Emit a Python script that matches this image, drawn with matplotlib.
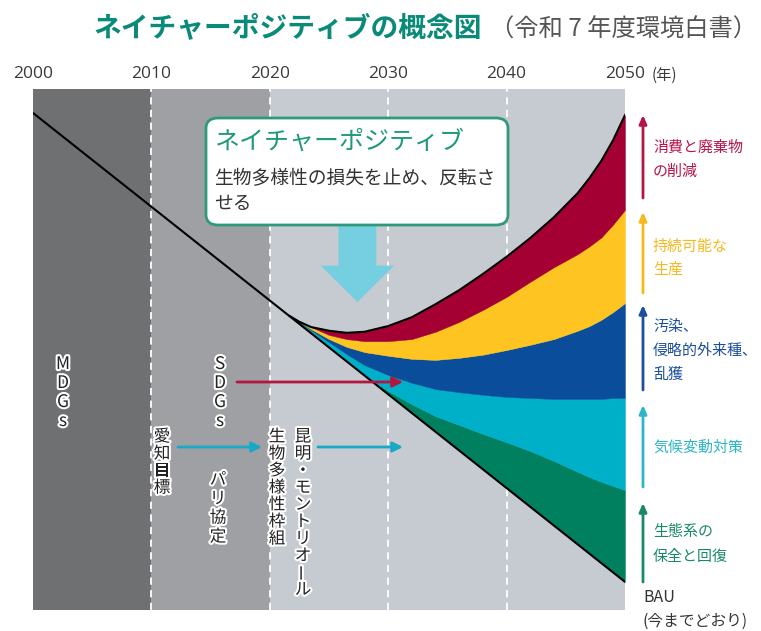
import numpy as np
import matplotlib
matplotlib.use("Agg")
import matplotlib.pyplot as plt
import matplotlib.patheffects as pe
from matplotlib.patches import FancyBboxPatch, FancyArrow

plt.rcParams['font.family'] = ['Noto Sans CJK JP', 'DejaVu Sans']

W, H = 761, 631

# ---- data (index: 0 = bottom, 100 = top of panel) ----
tick_years = [2000, 2010, 2020, 2030, 2040, 2050]
bau_years = [2000, 2050]
bau_line = [95.4, 5.4]

years = [2021.7, 2022.5, 2023.5, 2025, 2026.5, 2028, 2030, 2032, 2034, 2036,
         2038, 2040, 2042, 2044, 2046, 2047, 2048, 2049, 2050]
bau = [56.4, 54.9, 53.1, 50.4, 47.7, 45.0, 41.4, 37.8, 34.2, 30.6,
       27.0, 23.4, 19.8, 16.2, 12.6, 10.8, 9.0, 7.2, 5.4]
cyan_green = [56.4, 54.9, 53.1, 50.4, 47.7, 45.0, 42.0, 39.5, 37.2, 35.5,
              33.8, 32.2, 30.5, 28.6, 26.5, 25.5, 24.6, 23.8, 23.0]
blue_cyan = [56.4, 55.3, 53.7, 51.4, 49.1, 47.0, 45.1, 43.6, 42.4, 41.8,
             41.3, 40.9, 40.7, 40.5, 40.5, 40.5, 40.5, 40.7, 40.7]
yellow_blue = [56.4, 55.3, 53.9, 52.0, 50.5, 49.5, 48.8, 48.2, 48.0, 48.4,
               49.0, 49.9, 50.9, 52.0, 53.6, 54.5, 55.7, 57.2, 58.9]
red_yellow = [56.4, 55.5, 54.3, 52.8, 52.0, 51.6, 51.6, 52.0, 53.4, 55.3,
              57.6, 60.1, 63.0, 65.8, 68.3, 69.8, 71.5, 74.0, 76.8]
positive = [56.4, 55.3, 54.3, 53.6, 53.2, 53.4, 54.5, 56.2, 58.7, 61.4,
            64.5, 67.8, 71.4, 75.4, 80.0, 82.9, 86.2, 90.2, 95.0]

bands = [bau, cyan_green, blue_cyan, yellow_blue, red_yellow, positive]
band_colors = ['#00805f', '#00afc8', '#0a4e9b', '#fdc422', '#a50034']

# right-side legend: (lines, colour, arrow bottom px, arrow top px, label y px)
legend_items = [
    (["消費と廃棄物", "の削減"], '#b51446', 198, 115, [148, 172]),
    (["持続可能な", "生産"], '#f6b81c', 293, 212, [247, 270]),
    (["汚染、", "侵略的外来種、", "乱獲"], '#1c4f9c', 390, 305, [327, 351, 375]),
    (["気候変動対策"], '#2db6c8', 487, 405, [448]),
    (["生態系の", "保全と回復"], '#168a68', 582, 503, [532, 557]),
]


def fx(x):
    return x / W


def fy(y):
    return 1 - y / H


fig = plt.figure(figsize=(W / 100, H / 100), dpi=100)
ax = fig.add_axes([fx(33), fy(610), (625 - 33) / W, (610 - 89) / H])
ax.set_xlim(2000, 2050)
ax.set_ylim(0, 100)
ax.axis('off')

# background periods
ax.axvspan(2000, 2010, color='#6f7072', lw=0, zorder=0)
ax.axvspan(2010, 2020, color='#9fa0a3', lw=0, zorder=0)
ax.axvspan(2020, 2050, color='#c6cbd1', lw=0, zorder=0)
for yr in tick_years[1:-1]:
    ax.axvline(yr, color='white', lw=1.3, ls=(0, (4, 3)), zorder=1)

# stacked bands
for lo, hi, c in zip(bands[:-1], bands[1:], band_colors):
    ax.fill_between(years, lo, hi, color=c, lw=0.3, edgecolor=c, zorder=2)
ax.plot(years, positive, color='black', lw=1.5, zorder=3, solid_joinstyle='round')
ax.plot(bau_years, bau_line, color='black', lw=1.5, zorder=3)

# big down arrow
ax.add_patch(FancyArrow(2027.4, 73.9, 0, -14.8, width=3.2, head_width=6.2,
                        head_length=7.0, length_includes_head=True,
                        color='#76cfe0', lw=0, zorder=2))

# year labels
for yr in tick_years:
    ax.text(yr, 102.8, str(yr), ha='center', va='center', fontsize=12.5,
            color='#3a3a3a', family=['Open Sans', 'DejaVu Sans'])
fig.text(fx(652), fy(75), "(年)", ha='left', va='center', fontsize=11, color='#3a3a3a')

# title
fig.text(fx(93), fy(28), "ネイチャーポジティブの概念図", ha='left', va='center',
         fontsize=20, fontweight='bold', color='#0a8a78')
fig.text(fx(490), fy(30), "（令和 7 年度環境白書）", ha='left', va='center',
         fontsize=17.5, color='#555555')

# callout box
box = FancyBboxPatch((fx(206), fy(225)), (508 - 206) / W, (225 - 118) / H,
                     boxstyle='round,pad=0,rounding_size=0.016',
                     transform=fig.transFigure, facecolor='white',
                     edgecolor='#2e9a7a', lw=2, zorder=5)
fig.add_artist(box)
fig.text(fx(214), fy(142), "ネイチャーポジティブ", ha='left', va='center',
         fontsize=18, color='#1e9a78', zorder=6)
fig.text(fx(214), fy(179), "生物多様性の損失を止め、反転さ", ha='left', va='center',
         fontsize=13.5, color='#333333', zorder=6)
fig.text(fx(214), fy(203), "せる", ha='left', va='center',
         fontsize=13.5, color='#333333', zorder=6)

# vertical labels with white halo
halo = [pe.withStroke(linewidth=3, foreground='white')]


def vtext(chars, x, y0, step, size=12):
    for i, c in enumerate(chars):
        rot = 90 if c == 'ー' else 0
        fig.text(fx(x), fy(y0 + i * step), c, ha='center', va='center',
                 fontsize=size, rotation=rot, color='#222222',
                 path_effects=halo, zorder=6)


vtext("MDGs", 63, 364, 19, 12.5)
vtext("SDGs", 220, 364, 19, 12.5)
vtext("愛知目標", 162, 437, 17)
vtext("パリ協定", 218, 480, 19)
vtext("生物多様性枠組", 277, 437, 17)
vtext("昆明・モントリオール", 303, 437, 17)

# horizontal pointer arrows
arrow_h = [(237, 403, 382, '#b3163f'), (178, 262, 447, '#18a9c6'),
           (318, 403, 447, '#18a9c6')]
for x0, x1, y, c in arrow_h:
    ax.annotate('', xy=(x1, H - y), xytext=(x0, H - y),
                xycoords='figure pixels', textcoords='figure pixels',
                arrowprops=dict(arrowstyle='-|>,head_length=0.6,head_width=0.3',
                                color=c, lw=2, shrinkA=0, shrinkB=0), zorder=6)

# right-side legend arrows and labels
for lines, c, yb, yt, ys in legend_items:
    ax.annotate('', xy=(643, H - yt), xytext=(643, H - yb),
                xycoords='figure pixels', textcoords='figure pixels',
                arrowprops=dict(arrowstyle='-|>,head_length=0.5,head_width=0.22',
                                color=c, lw=2, shrinkA=0, shrinkB=0))
    for line, y in zip(lines, ys):
        fig.text(fx(653), fy(y), line, ha='left', va='center', fontsize=10.8, color=c)

fig.text(fx(643), fy(598), "BAU", ha='left', va='center', fontsize=11.5, color='#333333')
fig.text(fx(643), fy(621), "(今までどおり)", ha='left', va='center', fontsize=11.3, color='#333333')

fig.savefig("out.png", dpi=100)
